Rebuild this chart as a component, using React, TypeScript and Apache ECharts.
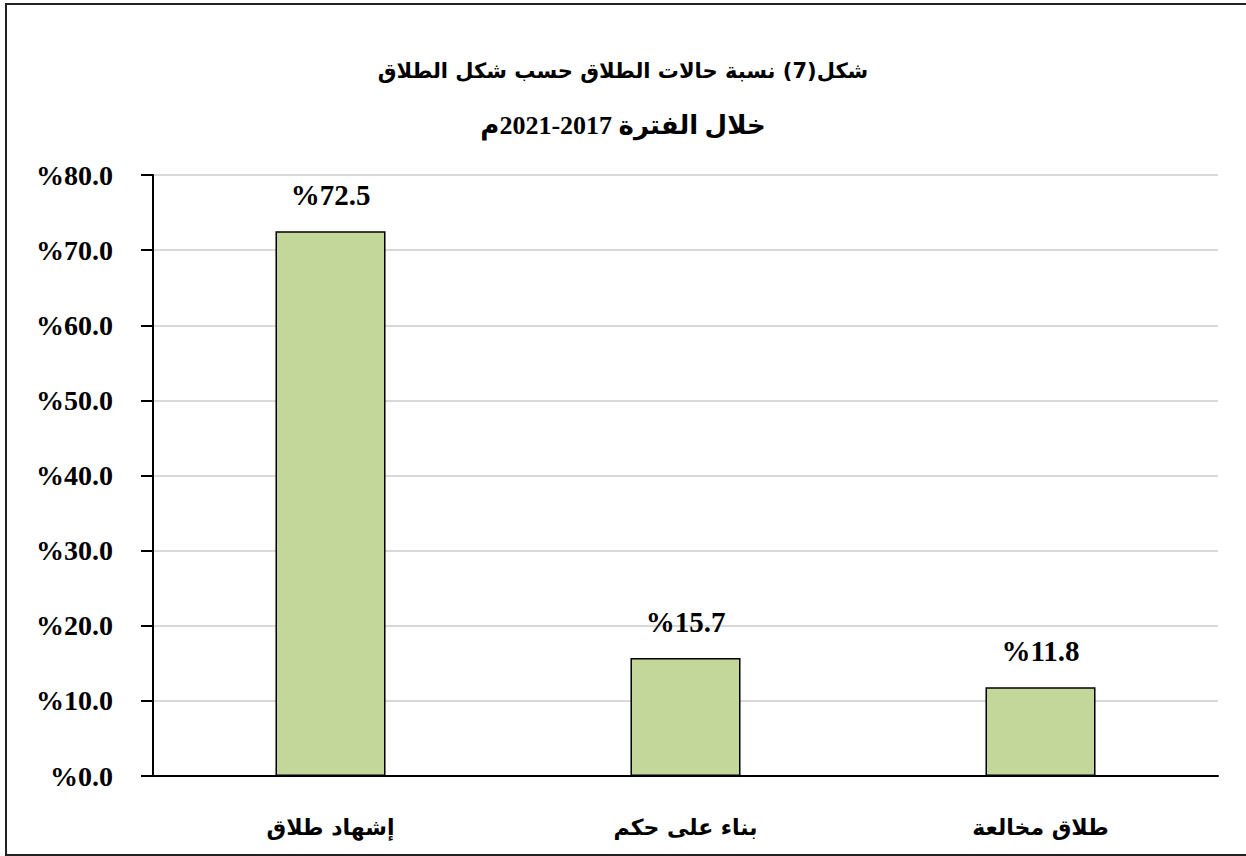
import React, { useEffect, useRef } from "react";
import * as echarts from "echarts";

const categories = ["إشهاد طلاق", "بناء على حكم", "طلاق مخالعة"];
const values = [72.5, 15.7, 11.8];
const yTicks = [0, 10, 20, 30, 40, 50, 60, 70, 80];
const titleLine1 = "شكل(7) نسبة حالات الطلاق حسب شكل الطلاق";
const titleLine2 = "خلال الفترة 2017-2021م";

const serif = "'Liberation Serif', 'Times New Roman', 'DejaVu Serif', serif";
const arabic = "'DejaVu Sans', 'Liberation Sans', sans-serif";
const serifArabic = "'Liberation Serif', 'DejaVu Sans', serif";

export default function App() {
  const ref = useRef<HTMLDivElement>(null);
  useEffect(() => {
    if (!ref.current) return;
    const chart = echarts.init(ref.current, undefined, { renderer: "svg" });
    chart.setOption({
      animation: false,
      backgroundColor: "#ffffff",
      graphic: [
        {
          type: "rect",
          shape: { x: 6, y: 4, width: 1260, height: 851 },
          style: { fill: "none", stroke: "#222", lineWidth: 2 },
          silent: true,
          z: 100,
        },
        {
          type: "text",
          left: "center",
          top: 60,
          style: {
            text: titleLine1,
            font: `bold 21px ${arabic}`,
            fill: "#000",
          },
        },
        {
          type: "text",
          left: "center",
          top: 112,
          style: {
            text: titleLine2,
            font: `bold 26px ${serifArabic}`,
            fill: "#000",
          },
        },
      ],
      grid: { left: 153, right: 28, top: 175, bottom: 80, containLabel: false },
      xAxis: {
        type: "category",
        data: categories,
        axisLine: { show: true, lineStyle: { color: "#000", width: 2 } },
        axisTick: { show: false },
        axisLabel: {
          margin: 40,
          color: "#000",
          fontWeight: "bold",
          fontSize: 22,
          fontFamily: arabic,
        },
      },
      yAxis: {
        type: "value",
        min: yTicks[0],
        max: yTicks[yTicks.length - 1],
        interval: 10,
        axisLine: { show: true, lineStyle: { color: "#000", width: 2 } },
        axisTick: { show: true, length: 12, lineStyle: { color: "#000", width: 2 } },
        splitLine: { show: true, lineStyle: { color: "#d9d9d9", width: 2 } },
        axisLabel: {
          margin: 40,
          color: "#000",
          fontWeight: "bold",
          fontSize: 28,
          fontFamily: serif,
          formatter: (v: number) => "%" + v.toFixed(1),
        },
      },
      series: [
        {
          type: "bar",
          data: values,
          barWidth: "31%",
          itemStyle: { color: "#c4d79b", borderColor: "#000", borderWidth: 1.5 },
          label: {
            show: true,
            position: "top",
            distance: 22,
            color: "#000",
            fontWeight: "bold",
            fontSize: 29,
            fontFamily: serif,
            formatter: (p: any) => "%" + Number(p.value).toFixed(1),
          },
        },
      ],
    });
    return () => chart.dispose();
  }, []);
  return (
    <div
      ref={ref}
      style={{ position: "absolute", left: 0, top: 0, width: 1246, height: 856 }}
    />
  );
}
